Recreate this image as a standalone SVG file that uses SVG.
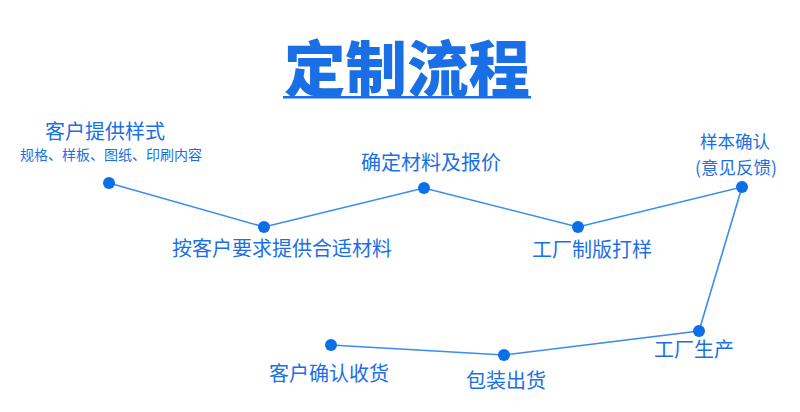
<svg xmlns="http://www.w3.org/2000/svg" width="800" height="412" viewBox="0 0 800 412">
<style>
.t{font-family:"Noto Sans CJK SC","Noto Sans",sans-serif;fill:#1a6fe6;font-size:20px;text-anchor:middle}
.s{font-size:14px}
.m{font-size:17.5px}
.dot{fill:#0b6fe8}
.ln{stroke:#3a8cf0;stroke-width:1.6;fill:none}
</style>
<rect width="800" height="412" fill="#ffffff"/>
<g id="title">
<text x="407" y="92" class="t" style="font-size:61px;font-weight:900" textLength="246" lengthAdjust="spacingAndGlyphs">定制流程</text>
<rect x="283" y="96" width="248" height="2.5" fill="#1a6fe6"/>
</g>
<g id="connectors">
<polyline class="ln" points="109,183 264,227 424,188 578,227 742,187 699,331 504,355 331,345"/>
</g>
<g id="n1"><circle class="dot" cx="109" cy="183" r="6"/><text class="t" x="105" y="139">客户提供样式</text><text class="t s" x="111" y="160">规格、样板、图纸、印刷内容</text></g>
<g id="n2"><circle class="dot" cx="264" cy="227" r="6"/><text class="t" x="282" y="256">按客户要求提供合适材料</text></g>
<g id="n3"><circle class="dot" cx="424" cy="188" r="6"/><text class="t" x="431" y="170">确定材料及报价</text></g>
<g id="n4"><circle class="dot" cx="578" cy="227" r="6"/><text class="t" x="592" y="257">工厂制版打样</text></g>
<g id="n5"><circle class="dot" cx="742" cy="187" r="6"/><text class="t m" x="735" y="148">样本确认</text><text class="t m" x="736" y="174">(意见反馈)</text></g>
<g id="n6"><circle class="dot" cx="699" cy="331" r="6"/><text class="t" x="694" y="357">工厂生产</text></g>
<g id="n7"><circle class="dot" cx="504" cy="355" r="6"/><text class="t" x="506" y="388">包装出货</text></g>
<g id="n8"><circle class="dot" cx="331" cy="345" r="6"/><text class="t" x="329" y="381">客户确认收货</text></g>
</svg>
